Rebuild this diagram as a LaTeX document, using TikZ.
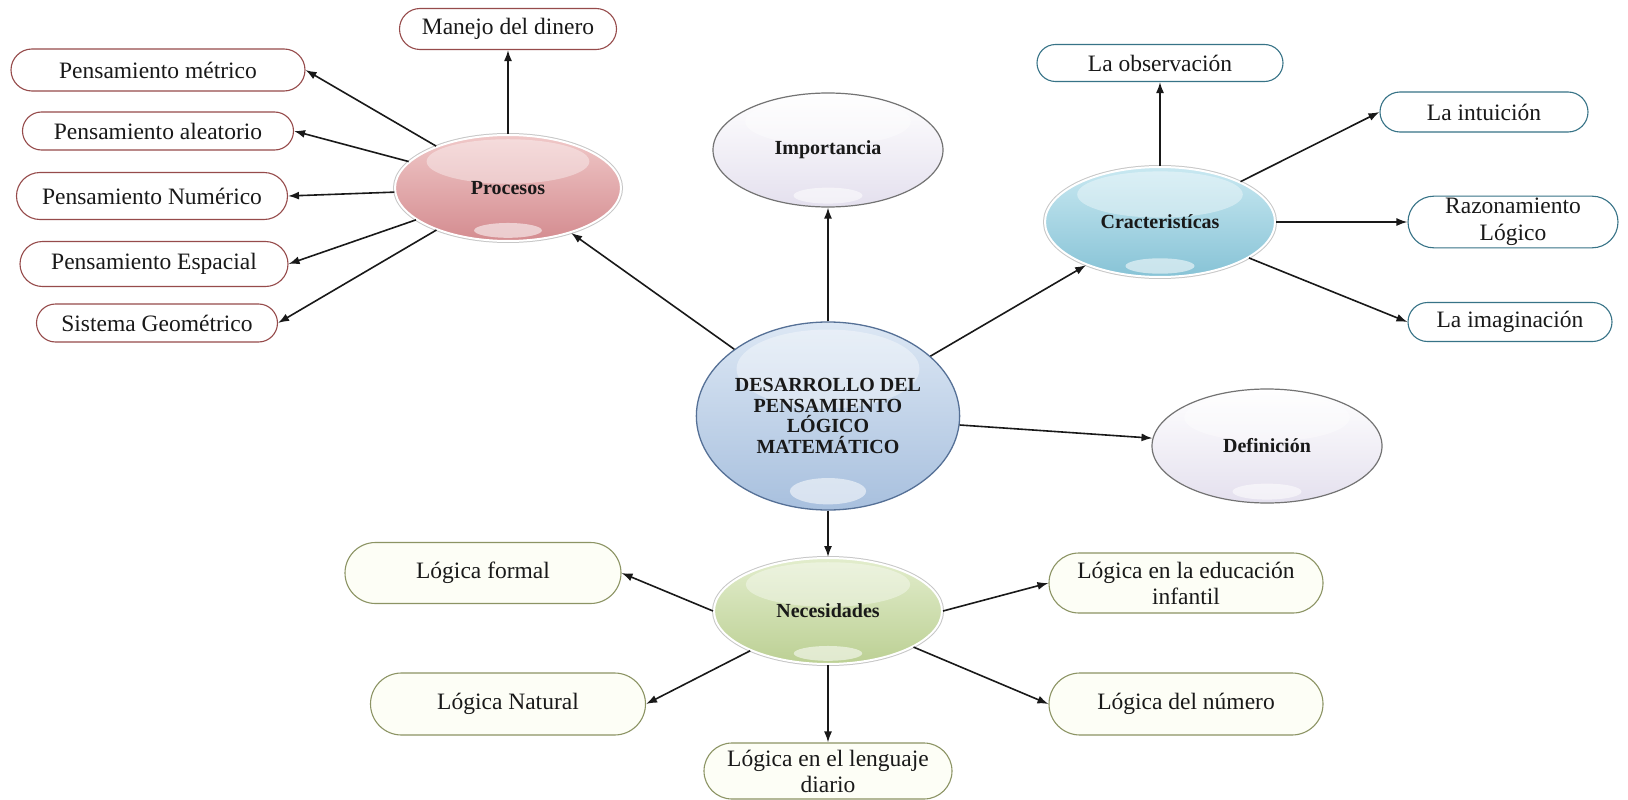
\documentclass[tikz,border=0pt]{standalone}
\usepackage{fontspec}
\setmainfont{Liberation Serif}
\usetikzlibrary{shapes.geometric,shapes.misc,arrows.meta}
\definecolor{procTop}{RGB}{240,200,200}
\definecolor{procMid}{RGB}{222,160,162}
\definecolor{procBot}{RGB}{212,140,144}
\definecolor{cenTop}{RGB}{220,231,244}
\definecolor{cenMid}{RGB}{186,205,229}
\definecolor{cenBot}{RGB}{168,192,222}
\definecolor{cenLine}{RGB}{85,112,150}
\definecolor{crTop}{RGB}{200,232,241}
\definecolor{crMid}{RGB}{158,208,224}
\definecolor{crBot}{RGB}{135,195,214}
\definecolor{necTop}{RGB}{226,237,204}
\definecolor{necMid}{RGB}{202,218,166}
\definecolor{necBot}{RGB}{188,208,148}
\definecolor{lavBot}{RGB}{228,224,238}
\definecolor{redLine}{RGB}{150,75,75}
\definecolor{blueLine}{RGB}{55,115,135}
\definecolor{greenLine}{RGB}{140,148,100}
\definecolor{greenFill}{RGB}{253,254,246}
\definecolor{inkc}{RGB}{25,25,25}
\begin{document}
\begin{tikzpicture}[x=1pt,y=-1pt,
  box/.style={rounded rectangle, draw, line width=1.1pt, fill=white, inner sep=2pt,
    text=inkc, font=\fontsize{23.5}{26}\selectfont, align=center},
  redbox/.style={box, draw=redLine},
  bluebox/.style={box, draw=blueLine},
  greenbox/.style={box, draw=greenLine, fill=greenFill},
  bub/.style 2 args={ellipse, minimum width=2*#1, minimum height=2*#2, inner sep=0pt,
    text=inkc, font=\bfseries\fontsize{20}{20.5}\selectfont, align=center,
    path picture={
      \fill[white, fill opacity=0.38] ([yshift=0.5*#2 pt]path picture bounding box.center)
        ellipse [x radius=0.72*#1 pt, y radius=0.42*#2 pt];
      \fill[white, fill opacity=0.55] ([yshift=-0.8*#2 pt]path picture bounding box.center)
        ellipse [x radius=0.3*#1 pt, y radius=0.14*#2 pt];
    }},
  glossrim/.style={draw=white, line width=2pt, preaction={draw=black!22, line width=4pt}},
  procbub/.style={glossrim, top color=procTop, middle color=procMid, bottom color=procBot},
  crbub/.style={glossrim, top color=crTop, middle color=crMid, bottom color=crBot},
  necbub/.style={glossrim, top color=necTop, middle color=necMid, bottom color=necBot},
  cenbub/.style={draw=cenLine, line width=1.3pt, top color=cenTop, middle color=cenMid, bottom color=cenBot},
  lavbub/.style={draw=black!55, line width=1.2pt, top color=white, bottom color=lavBot},
  conn/.style={-{Latex[length=11pt,width=8pt]}, line width=1.6pt, black!90}
]
\fill[white] (0,0) rectangle (1628,800);
\useasboundingbox (0,0) rectangle (1628,800);

% central and satellites
\node[bub={127}{94}, cenbub] (cen) at (828,416) {DESARROLLO DEL\\PENSAMIENTO\\LÓGICO\\MATEMÁTICO};
\node[bub={113}{53}, procbub] (proc) at (508,188) {Procesos};
\node[bub={115}{57}, lavbub] (imp) at (828,150) {Importancia};
\node[bub={115}{55}, crbub] (cr) at (1160,222) {Cracteristícas};
\node[bub={115}{57}, lavbub] (def) at (1267,446) {Definición};
\node[bub={114}{53}, necbub] (nec) at (828,611) {Necesidades};

% Procesos boxes
\node[redbox, minimum width=221, minimum height=41] (man) at (508,29) {Manejo del dinero};
\node[redbox, minimum width=298, minimum height=42] (pmet) at (158,70) {Pensamiento métrico};
\node[redbox, minimum width=275, minimum height=38] (palea) at (158,131) {Pensamiento aleatorio};
\node[redbox, minimum width=275, minimum height=47] (pnum) at (152,196) {Pensamiento Numérico};
\node[redbox, minimum width=272, minimum height=45] (pesp) at (154,264) {Pensamiento Espacial};
\node[redbox, minimum width=245, minimum height=38] (sgeo) at (157,323) {Sistema Geométrico};

% Caracteristicas boxes
\node[bluebox, minimum width=250, minimum height=37] (obs) at (1160,63) {La observación};
\node[bluebox, minimum width=212, minimum height=40] (intu) at (1484,112) {La intuición};
\node[bluebox, minimum width=214, minimum height=50, font=\fontsize{23.5}{27}\selectfont] (razo) at (1513,222) {Razonamiento\\Lógico};
\node[bluebox, minimum width=208, minimum height=39] (imag) at (1510,322) {La imaginación};

% Necesidades boxes
\node[greenbox, minimum width=280, minimum height=61] (lf) at (483,573) {Lógica formal};
\node[greenbox, minimum width=279, minimum height=62] (ln) at (508,704) {Lógica Natural};
\node[greenbox, minimum width=278, minimum height=60] (le) at (1186,583) {Lógica en la educación\\infantil};
\node[greenbox, minimum width=278, minimum height=62] (lnum) at (1186,704) {Lógica del número};
\node[greenbox, minimum width=252, minimum height=56] (ld) at (828,771) {Lógica en el lenguaje\\diario};

% connectors from centre
\draw[conn] (cen) -- (proc);
\draw[conn] (cen) -- (imp);
\draw[conn] (cen) -- (cr);
\draw[conn] (cen) -- (def);
\draw[conn] (cen) -- (nec);

% Procesos
\draw[conn] (proc) -- (man);
\draw[conn] (proc) -- (pmet.east);
\draw[conn] (proc) -- (palea.east);
\draw[conn] (proc) -- (pnum.east);
\draw[conn] (proc) -- (pesp.east);
\draw[conn] (proc) -- (sgeo.east);

% Caracteristicas
\draw[conn] (cr) -- (obs);
\draw[conn] (cr) -- (intu.west);
\draw[conn] (cr) -- (razo.west);
\draw[conn] (cr) -- (imag.west);

% Necesidades
\draw[conn] (nec.west) -- (lf.east);
\draw[conn] (nec) -- (ln.east);
\draw[conn] (nec) -- (ld);
\draw[conn] (nec) -- (lnum.west);
\draw[conn] (nec.east) -- (le.west);
\end{tikzpicture}
\end{document}
